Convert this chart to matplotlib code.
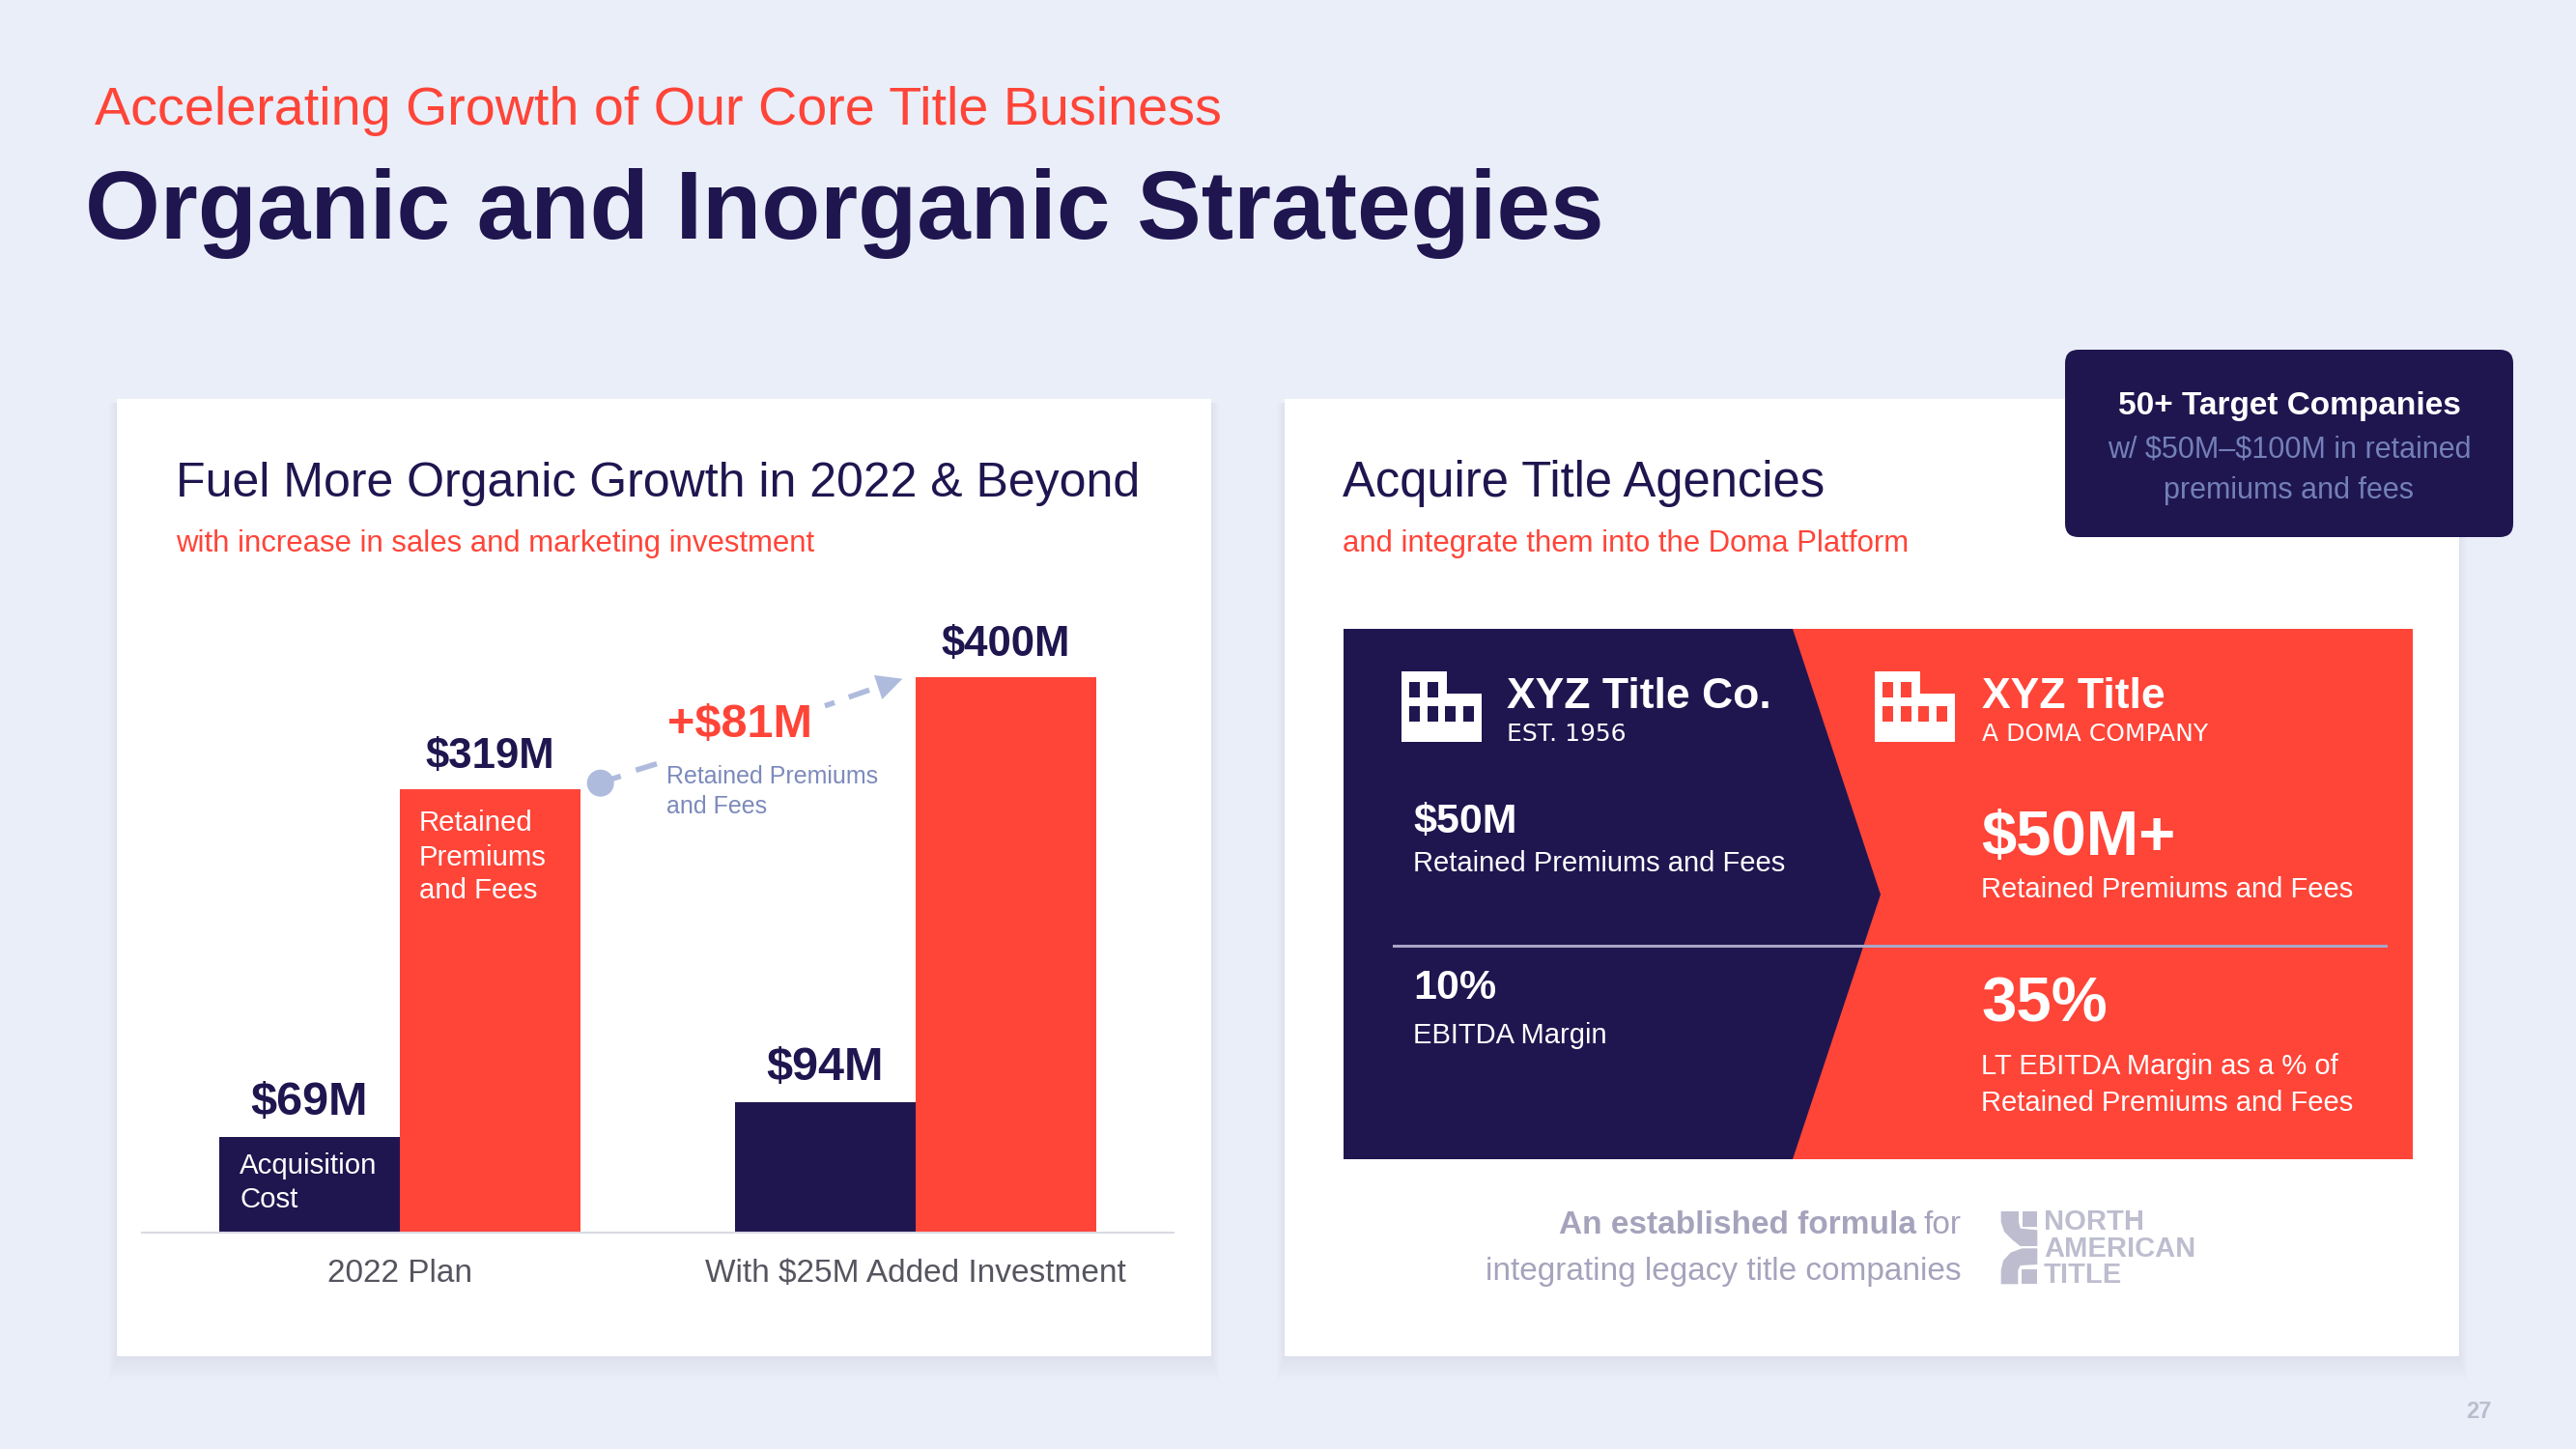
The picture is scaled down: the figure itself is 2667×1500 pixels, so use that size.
#!/usr/bin/env python3
import matplotlib
matplotlib.use('Agg')
import matplotlib.pyplot as plt
from matplotlib.colors import to_rgb
from matplotlib.patches import Rectangle, Polygon, Circle, FancyBboxPatch
import numpy as np

plt.rcParams['font.family'] = ['Liberation Sans', 'DejaVu Sans']

W, H = 2667, 1500
BG = '#EAEEF8'
SHADOW = '#DCDFEB'
NAVY = '#1F1650'
RED = '#FF4438'
ARROW = '#AFBBDD'
SOFT_BLUE = '#7C8ABB'
GREY = '#A5A3BC'
LOGO = '#BDBDCF'

# chart values, $M
categories = ['2022 Plan', 'With $25M Added Investment']
acquisition_cost = [69, 94]
retained_premiums = [319, 400]
cost_labels = ['$69M', '$94M']
premium_labels = ['$319M', '$400M']

fig = plt.figure(figsize=(W / 100, H / 100), dpi=100, facecolor=BG)


def pixel_axes(order):
    # whole slide in pixel coordinates
    a = fig.add_axes([0, 0, 1, 1], zorder=order)
    a.set_xlim(0, W)
    a.set_ylim(H, 0)
    a.axis('off')
    return a


pg = pixel_axes(1)
top = pixel_axes(3)  # text goes over the bars


def txt(x, y, s, size, color=NAVY, weight='normal', ha='left', family=None):
    return top.text(x, y, s, fontsize=size, color=color, weight=weight, ha=ha, va='baseline',
                    parse_math=False, family=family)


def card(x0, y0, x1, y1):
    # soft shadow, opaque rects fading into the background
    bg, sh = np.array(to_rgb(BG)), np.array(to_rgb(SHADOW))
    n = 22
    for i in range(n, 0, -1):
        col = sh + (bg - sh) * (i / n) ** 0.8
        pg.add_patch(Rectangle((x0 - i * 0.4, y0 + 4), x1 - x0 + i * 0.8, y1 - y0 - 4 + i * 1.2,
                               fc=col, ec='none', zorder=1))
    pg.add_patch(Rectangle((x0, y0), x1 - x0, y1 - y0, fc='white', ec='none', zorder=2))


def building(x, win_color):
    pts = [(x, 695), (x + 47, 695), (x + 47, 718.3), (x + 82.6, 718.3), (x + 82.6, 768.3), (x, 768.3)]
    pg.add_patch(Polygon(pts, fc='white', ec='none', zorder=4))
    for wx in [7.6, 26.6]:
        pg.add_patch(Rectangle((x + wx, 705.7), 11, 16, fc=win_color, ec='none', zorder=4.5))
    for wx in [7.6, 26.6, 45.3, 64.3]:
        pg.add_patch(Rectangle((x + wx, 730.7), 11, 16.6, fc=win_color, ec='none', zorder=4.5))


card(121, 413, 1254, 1404)
card(1330, 413, 2546, 1404)

# header
txt(98, 129, 'Accelerating Growth of Our Core Title Business', 40.1, RED)
txt(88, 247.5, 'Organic and Inorganic Strategies', 72, NAVY, 'bold')

# left card
txt(182, 514, 'Fuel More Organic Growth in 2022 & Beyond', 36, NAVY)
txt(182, 571, 'with increase in sales and marketing investment', 22.4, RED)

# bars
ax = fig.add_axes([147 / W, 1 - 1276 / H, (1215 - 147) / W, (1276 - 629) / H], zorder=2)
ax.patch.set_alpha(0)
x = np.arange(len(categories))
bw = 0.35
ax.bar(x - bw / 2, acquisition_cost, bw, color=NAVY, linewidth=0)
ax.bar(x + bw / 2, retained_premiums, bw, color=RED, linewidth=0)
ax.set_xlim(-0.5, 1.5)
ax.set_ylim(0, 450)
ax.set_yticks([])
ax.set_xticks(x)
ax.set_xticklabels(categories, fontsize=24, color='#555560')
ax.tick_params(axis='x', length=0, pad=19.5)
for s in ['top', 'left', 'right']:
    ax.spines[s].set_visible(False)
ax.spines['bottom'].set_color('#D9DAE2')
ax.spines['bottom'].set_linewidth(1.5)

for i in range(len(categories)):
    ax.annotate(cost_labels[i], (x[i] - bw / 2, acquisition_cost[i]), xytext=(0, 16.5),
                textcoords='offset points', ha='center', va='baseline', fontsize=35,
                weight='bold', color=NAVY, parse_math=False)
    ax.annotate(premium_labels[i], (x[i] + bw / 2, retained_premiums[i]), xytext=(0, 16),
                textcoords='offset points', ha='center', va='baseline', fontsize=31.5,
                weight='bold', color=NAVY, parse_math=False)

# labels on the bars
for yy, s in zip([860, 896, 930], ['Retained', 'Premiums', 'and Fees']):
    txt(434, yy, s, 21.2, 'white')
for yy, s in zip([1215, 1250], ['Acquisition', 'Cost']):
    txt(248, yy, s, 21.2, 'white')

# dashed arrow from first to second retained bar
pg.add_patch(Circle((621.7, 810.7), 14, fc=ARROW, ec='none', zorder=4))
for (xa, ya), (xb, yb) in [((625, 809), (642.7, 803.5)), ((658.3, 797.3), (680, 790.7)),
                           ((854, 730.7), (864, 727.3)), ((878.7, 721.7), (900, 714.3))]:
    pg.plot([xa, xb], [ya, yb], color=ARROW, lw=4, solid_capstyle='butt', zorder=4)
pg.add_patch(Polygon([(905, 699), (934.3, 702.7), (913.3, 724)], fc=ARROW, ec='none', zorder=4))
txt(691, 763, '+$81M', 35, RED, 'bold')
txt(690, 811, 'Retained Premiums', 18, SOFT_BLUE)
txt(690, 842, 'and Fees', 18, SOFT_BLUE)

# right card
txt(1390, 514, 'Acquire Title Agencies', 36.5, NAVY)
txt(1390, 571, 'and integrate them into the Doma Platform', 22.4, RED)

pg.add_patch(Rectangle((1391, 651), 2498 - 1391, 1200 - 651, fc=RED, ec='none', zorder=3))
pg.add_patch(Polygon([(1391, 651), (1856, 651), (1947, 926), (1856, 1200), (1391, 1200)],
                     fc=NAVY, ec='none', zorder=3.2))
pg.plot([1443, 2470], [979, 979], color='#A9A6C6', lw=2.2, zorder=3.5)
building(1451, NAVY)
building(1941, RED)

txt(1560, 733, 'XYZ Title Co.', 32, 'white', 'bold')
txt(1560, 767, 'EST. 1956', 18, 'white', family='DejaVu Sans')
txt(2052, 733, 'XYZ Title', 32, 'white', 'bold')
txt(2052, 767, 'A DOMA COMPANY', 18, 'white', family='DejaVu Sans')

txt(1463, 862, '$50M', 31, 'white', 'bold')
txt(1463, 902, 'Retained Premiums and Fees', 21, 'white')
txt(1463, 1034, '10%', 31, 'white', 'bold')
txt(1463, 1080, 'EBITDA Margin', 21, 'white')

txt(2051, 885, '$50M+', 47, 'white', 'bold')
txt(2051, 929, 'Retained Premiums and Fees', 21, 'white')
txt(2051, 1058, '35%', 47, 'white', 'bold')
txt(2051, 1112, 'LT EBITDA Margin as a % of', 21, 'white')
txt(2051, 1150, 'Retained Premiums and Fees', 21, 'white')

# callout
pg.add_patch(FancyBboxPatch((2152, 376), 2602 - 2152 - 14, 556 - 362 - 28,
                            boxstyle='round,pad=14,rounding_size=14', fc=NAVY, ec='none', zorder=4))
txt(2370, 429, '50+ Target Companies', 24, 'white', 'bold', 'center')
txt(2370, 473, 'w/ $50M–$100M in retained', 22, '#7480B8', ha='center')
txt(2370, 516, 'premiums and fees', 22, '#7480B8', ha='center')

# footer of right card
txt(2031, 1277, 'for', 24, GREY, ha='right')
txt(1984, 1277, 'An established formula', 24, GREY, 'bold', 'right')
txt(2031, 1325, 'integrating legacy title companies', 24, GREY, ha='right')

logo_shapes = [
    [(65, 42), (120, 42), (120, 75), (125, 95), (178, 100), (178, 150), (125, 150), (100, 130), (75, 105), (65, 75)],
    [(133, 42), (178, 42), (178, 90), (133, 90)],
    [(178, 157), (130, 157), (95, 170), (72, 195), (65, 225), (65, 268), (118, 268), (118, 225), (125, 210), (178, 207)],
    [(130, 222), (178, 222), (178, 268), (130, 268)],
]
for shape in logo_shapes:
    pg.add_patch(Polygon([(px / 3 + 2050, py / 3 + 1240) for px, py in shape], fc=LOGO, ec='none', zorder=4))
for yy, s in zip([1273, 1301, 1328], ['NORTH', 'AMERICAN', 'TITLE']):
    txt(2116, yy, s, 21, LOGO, 'bold')

txt(2579, 1468, '27', 17, '#B9BDCE', 'bold', 'right')

fig.savefig('out.png', dpi=100, facecolor=BG)
